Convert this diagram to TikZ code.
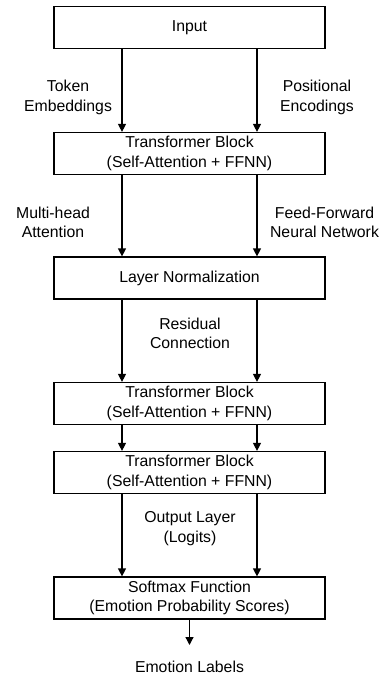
\documentclass[tikz,border=0pt]{standalone}
\usepackage{fontspec}
\setmainfont{Liberation Sans}
\usetikzlibrary{arrows.meta}

\begin{document}
\begin{tikzpicture}[x=1pt,y=-1pt,
		font=\fontsize{15.8}{19.5}\selectfont,
		blockbox/.style={draw, line width=1.2pt, minimum width=271pt,
			minimum height=42pt, inner sep=0pt, align=center},
		flow/.style={line width=1.2pt, -{Triangle[width=8pt,length=8pt]}},
		note/.style={align=center, inner sep=0pt}]
		\useasboundingbox (0,0) rectangle (384,677);
		% blocks
		\node[blockbox] (input) at (189.5,27.5) {Input};
		\node[blockbox] (trans1) at (189.5,153.5)
		{Transformer Block\\(Self-Attention + FFNN)};
		\node[blockbox] (norm) at (189.5,278) {Layer Normalization};
		\node[blockbox] (trans2) at (189.5,403.5)
		{Transformer Block\\(Self-Attention + FFNN)};
		\node[blockbox] (trans3) at (189.5,472.5)
		{Transformer Block\\(Self-Attention + FFNN)};
		\node[blockbox] (softmax) at (189.5,598)
		{Softmax Function\\(Emotion Probability Scores)};
		\node[note] (labels) at (189.5,667) {Emotion Labels};
		% side texts
		\node[note] at (68,97.5) {Token\\Embeddings};
		\node[note] at (317,97.5) {Positional\\Encodings};
		\node[note] at (53,222.5) {Multi-head\\Attention};
		\node[note] at (324.5,222.5) {Feed-Forward\\Neural Network};
		\node[note] at (190,333.5) {Residual\\Connection};
		\node[note] at (190,528.5) {Output Layer\\(Logits)};
		% arrows
		\foreach \a/\b in {input/trans1, trans1/norm, norm/trans2,
			trans2/trans3, trans3/softmax}
		{
			\draw[flow] ([xshift=-67.5pt]\a.south) -- ([xshift=-67.5pt]\b.north);
			\draw[flow] ([xshift=67.5pt]\a.south) -- ([xshift=67.5pt]\b.north);
		}
		\draw[flow] (softmax.south) -- (189.5,645);
	\end{tikzpicture}
\end{document}
